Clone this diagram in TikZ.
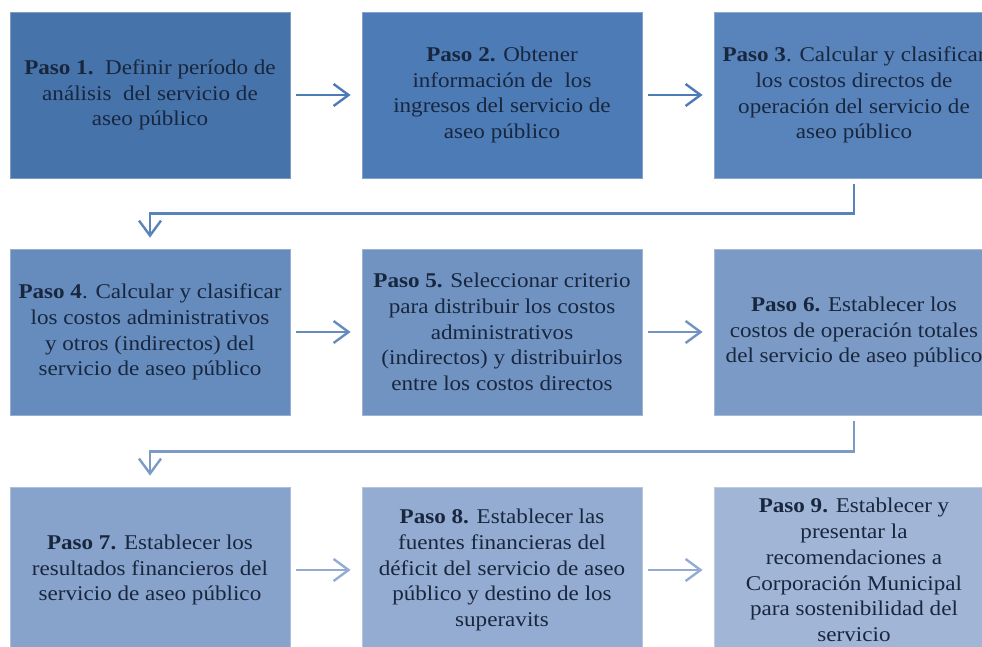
\documentclass[tikz,border=0pt]{standalone}
\usepackage{fontspec}
\setmainfont{Liberation Serif}[FakeStretch=1.1]
\usetikzlibrary{arrows.meta}

\definecolor{paso1}{RGB}{70,115,170}
\definecolor{paso2}{RGB}{76,123,181}
\definecolor{paso3}{RGB}{89,132,187}
\definecolor{paso4}{RGB}{102,140,190}
\definecolor{paso5}{RGB}{113,147,193}
\definecolor{paso6}{RGB}{123,155,198}
\definecolor{paso7}{RGB}{136,163,203}
\definecolor{paso8}{RGB}{148,172,209}
\definecolor{paso9}{RGB}{161,181,215}
\definecolor{pasotext}{RGB}{24,38,62}

\tikzset{
    paso/.style={rectangle, fill=#1, draw=#1!70!white, line width=0.8pt,
        minimum width=280pt, minimum height=166pt, inner sep=0pt,
        align=center, text=pasotext, font=\fontsize{21}{25.8}\selectfont},
    flecha/.style={draw=#1, line width=2.4pt,
        -{Straight Barb[length=15pt,width=22pt]},
        shorten <=6pt, shorten >=11pt}
}

\begin{document}
\begin{tikzpicture}[x=1pt,y=-1pt]
        \useasboundingbox (0,0) rectangle (982,647);
        \clip (0,0) rectangle (982,647);

        \node[paso=paso1] (s1) at (150,95) {\textbf{Paso 1.}\ \ Definir período de\\análisis\ \ del servicio de\\aseo público};
        \node[paso=paso2] (s2) at (502,95) {\textbf{Paso 2.} Obtener\\información de\ \ los\\ingresos del servicio de\\aseo público};
        \node[paso=paso3] (s3) at (854,95) {\textbf{Paso 3}. Calcular y clasificar\\los costos directos de\\operación del servicio de\\aseo público};

        \node[paso=paso4] (s4) at (150,332) {\textbf{Paso 4}. Calcular y clasificar\\los costos administrativos\\y otros (indirectos) del\\servicio de aseo público};
        \node[paso=paso5] (s5) at (502,332) {\textbf{Paso 5.} Seleccionar criterio\\para distribuir los costos\\administrativos\\(indirectos) y distribuirlos\\entre los costos directos};
        \node[paso=paso6] (s6) at (854,332) {\textbf{Paso 6.} Establecer los\\costos de operación totales\\del servicio de aseo público};

        \node[paso=paso7] (s7) at (150,570) {\textbf{Paso 7.} Establecer los\\resultados financieros del\\servicio de aseo público};
        \node[paso=paso8] (s8) at (502,570) {\textbf{Paso 8.} Establecer las\\fuentes financieras del\\déficit del servicio de aseo\\público y destino de los\\superavits};
        \node[paso=paso9] (s9) at (854,570) {\textbf{Paso 9.} Establecer y\\presentar la\\recomendaciones a\\Corporación Municipal\\para sostenibilidad del\\servicio};

        \draw[flecha=paso2] (s1) -- (s2);
        \draw[flecha=paso2] (s2) -- (s3);
        \draw[flecha=paso3] (s3.south) -- ++(0,35) -| (s4.north);
        \draw[flecha=paso4] (s4) -- (s5);
        \draw[flecha=paso5] (s5) -- (s6);
        \draw[flecha=paso6] (s6.south) -- ++(0,36) -| (s7.north);
        \draw[flecha=paso8] (s7) -- (s8);
        \draw[flecha=paso8] (s8) -- (s9);
\end{tikzpicture}
\end{document}
